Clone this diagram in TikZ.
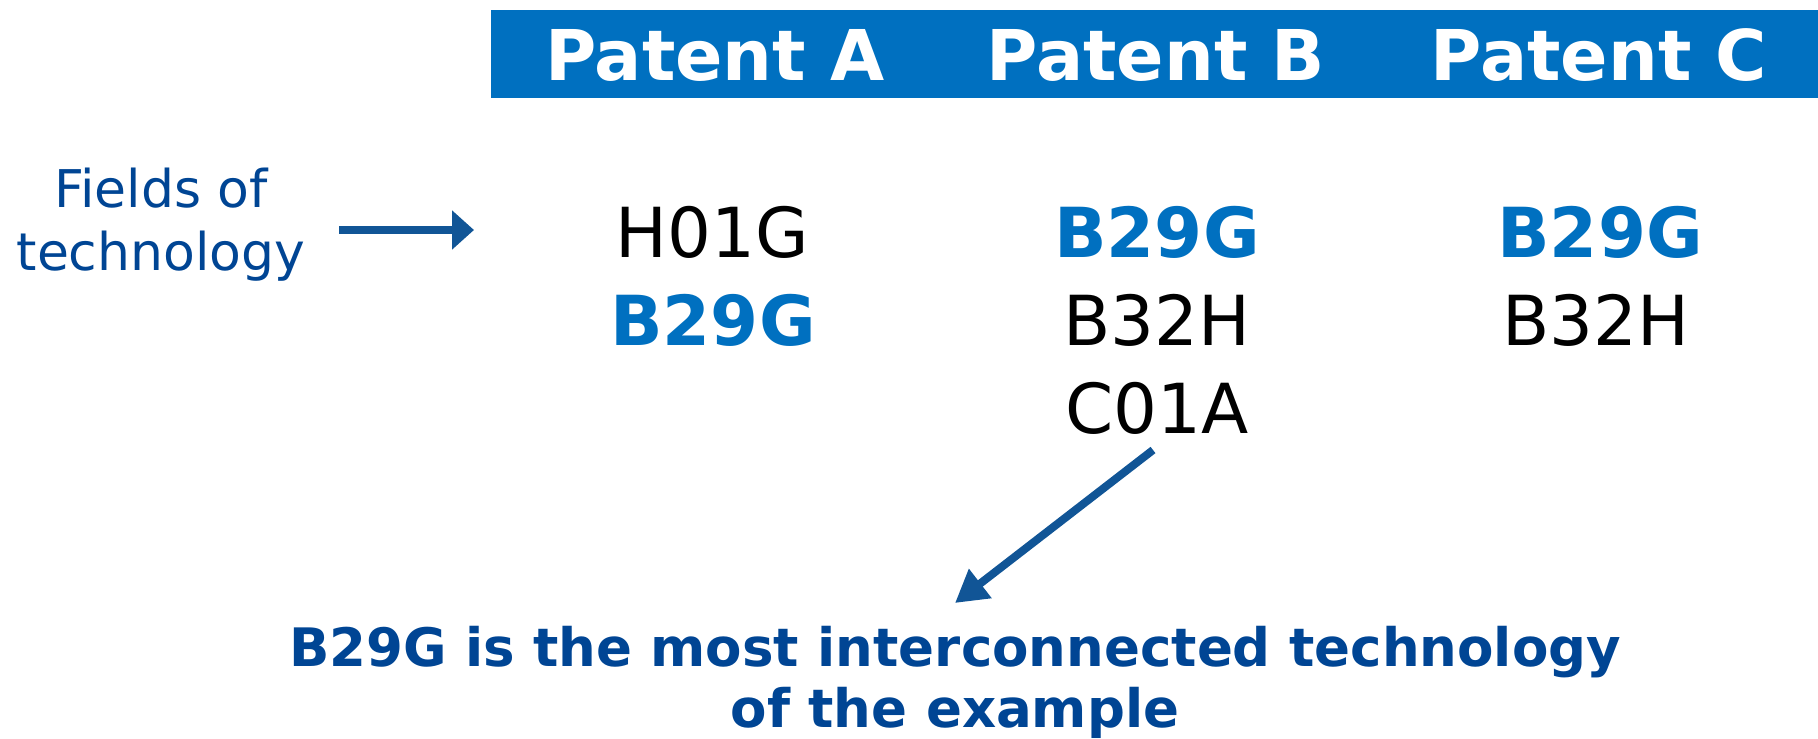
\documentclass[tikz,border=0pt]{standalone}
\usepackage{fontspec}
\setmainfont{DejaVu Sans}
\usetikzlibrary{arrows.meta}

\definecolor{barblue}{RGB}{0,112,192}
\definecolor{textblue}{RGB}{0,69,148}
\definecolor{arrowblue}{RGB}{17,85,150}

\tikzset{
  header/.style={anchor=base, inner sep=0pt, text=white, font=\fontsize{35pt}{42pt}\selectfont\bfseries},
  code/.style={anchor=base, inner sep=0pt, text=black, font=\fontsize{34.5pt}{41pt}\selectfont},
  keycode/.style={code, text=barblue, font=\fontsize{34.5pt}{41pt}\selectfont\bfseries},
  label/.style={inner sep=0pt, align=center, text=textblue},
  pointer/.style={draw=arrowblue, line width=4.3pt}
}

\begin{document}
\begin{tikzpicture}[x=0.5pt, y=-0.5pt]
  \useasboundingbox (0,0) rectangle (1818,738);

  % header bar with the three patents
  \fill[barblue] (491,10) rectangle (1818,98);
  \node[header] (hA) at (715,81) {Patent A};
  \node[header] (hB) at (1156,81) {Patent B};
  \node[header] (hC) at (1599,81) {Patent C};

  % technology fields of each patent
  \node[code]    (a1) at (712,257)  {H01G};
  \node[keycode] (a2) at (713,345)  {B29G};
  \node[keycode] (b1) at (1157,257) {B29G};
  \node[code]    (b2) at (1157,345) {B32H};
  \node[code]    (b3) at (1157,433) {C01A};
  \node[keycode] (c1) at (1600,257) {B29G};
  \node[code]    (c2) at (1596,345) {B32H};

  % left caption (anchored on its last line) and its arrow
  \node[label, anchor=base, font=\fontsize{26pt}{31.5pt}\selectfont] (fields) at (161,270) {Fields of\\technology};
  \coordinate (fstart) at (339,230);
  \coordinate (fend) at (474,230);
  \draw[pointer, -{Triangle[length=11pt, width=19pt]}] (fstart) -- (fend);

  % conclusion (anchored on its last line) and the arrow pointing to it
  \node[label, anchor=base, font=\fontsize{26.5pt}{30.5pt}\selectfont\bfseries] (concl) at (955,727)
    {B29G is the most interconnected technology\\of the example};
  \coordinate (dstart) at (1153,450);
  \coordinate (dtip) at (955,603);
  \draw[pointer, line width=4pt, -{Triangle[length=16pt, width=17.5pt]}] (dstart) -- (dtip);
\end{tikzpicture}
\end{document}
